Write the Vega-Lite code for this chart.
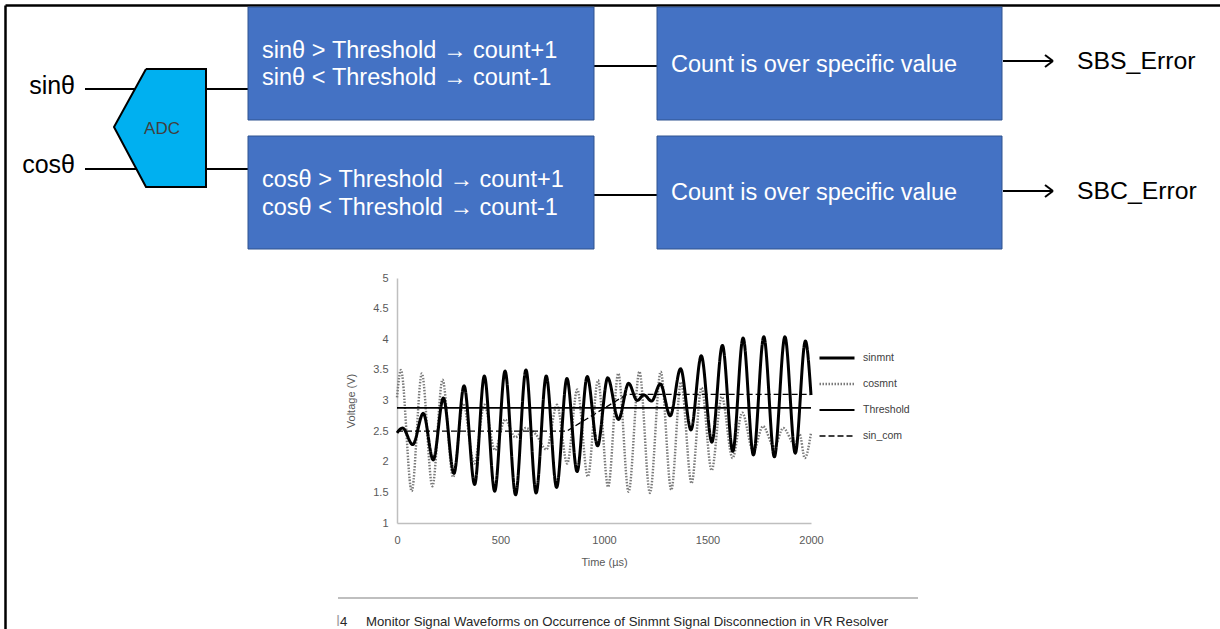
{
  "$schema": "https://vega.github.io/schema/vega-lite/v6.json",
  "width": 1220,
  "height": 629,
  "padding": 0,
  "autosize": {"type": "none"},
  "background": "#ffffff",
  "config": {"view": {"stroke": null}, "font": "Liberation Sans"},
  "datasets": {
    "frame": [
      {"x": 5.5, "y": 5.5, "x2": 1220, "y2": 5.5},
      {"x": 5.5, "y": 5.5, "x2": 5.5, "y2": 629}
    ],
    "wires": [
      {"x": 85, "y": 89, "x2": 248, "y2": 89},
      {"x": 85, "y": 169, "x2": 248, "y2": 169},
      {"x": 594, "y": 66, "x2": 657, "y2": 66},
      {"x": 594, "y": 195, "x2": 657, "y2": 195},
      {"x": 1003, "y": 61, "x2": 1053, "y2": 61},
      {"x": 1003, "y": 191, "x2": 1053, "y2": 191},
      {"x": 1045, "y": 55, "x2": 1053, "y2": 61},
      {"x": 1045, "y": 67, "x2": 1053, "y2": 61},
      {"x": 1045, "y": 185, "x2": 1053, "y2": 191},
      {"x": 1045, "y": 197, "x2": 1053, "y2": 191}
    ],
    "adcFill": [
      {"y": 69, "x": 146, "x2": 206},
      {"y": 127, "x": 114, "x2": 206},
      {"y": 187, "x": 146, "x2": 206}
    ],
    "adcOutline": [
      {"i": 0, "x": 146, "y": 69},
      {"i": 1, "x": 206, "y": 69},
      {"i": 2, "x": 206, "y": 187},
      {"i": 3, "x": 146, "y": 187},
      {"i": 4, "x": 114, "y": 127},
      {"i": 5, "x": 146, "y": 69}
    ],
    "boxes": [
      {"x": 248, "x2": 594, "y": 7, "y2": 120},
      {"x": 248, "x2": 594, "y": 136, "y2": 249},
      {"x": 657, "x2": 1002, "y": 7, "y2": 120},
      {"x": 657, "x2": 1002, "y": 136, "y2": 249}
    ],
    "boxText": [
      {"x": 262, "y": 57.5, "text": "sinθ > Threshold → count+1"},
      {"x": 262, "y": 85, "text": "sinθ < Threshold → count-1"},
      {"x": 262, "y": 187, "text": "cosθ > Threshold → count+1"},
      {"x": 262, "y": 215, "text": "cosθ < Threshold → count-1"},
      {"x": 671, "y": 71.5, "text": "Count is over specific value"},
      {"x": 671, "y": 200, "text": "Count is over specific value"}
    ],
    "inputs": [
      {"x": 75, "y": 94, "text": "sinθ"},
      {"x": 75, "y": 173, "text": "cosθ"}
    ],
    "outputs": [
      {"x": 1077, "y": 68.5, "text": "SBS_Error"},
      {"x": 1077, "y": 199, "text": "SBC_Error"}
    ],
    "adcLabel": [{"x": 162, "y": 134, "text": "ADC"}],
    "captionRule": [{"x": 338, "y": 598, "x2": 918, "y2": 598}],
    "captionText": [
      {"x": 340, "y": 626, "text": "4"},
      {"x": 366, "y": 626, "text": "Monitor Signal Waveforms on Occurrence of Sinmnt Signal Disconnection in VR Resolver"}
    ],
    "captionMark": [{"x": 336.5, "y": 626, "text": "l"}],
    "gridT": [{"t": 500}, {"t": 1000}, {"t": 1500}, {"t": 2000}],
    "gridV": [{"v": 1.5}, {"v": 2}, {"v": 2.5}, {"v": 3}, {"v": 3.5}, {"v": 4}, {"v": 4.5}, {"v": 5}],
    "waves": [
      {"s": "sinmnt", "t": 0, "v": 2.47},
      {"s": "sinmnt", "t": 27, "v": 2.55},
      {"s": "sinmnt", "t": 76, "v": 2.28},
      {"s": "sinmnt", "t": 127, "v": 2.79},
      {"s": "sinmnt", "t": 175, "v": 2.03},
      {"s": "sinmnt", "t": 224, "v": 3.04},
      {"s": "sinmnt", "t": 275, "v": 1.81},
      {"s": "sinmnt", "t": 324, "v": 3.24},
      {"s": "sinmnt", "t": 375, "v": 1.63},
      {"s": "sinmnt", "t": 422, "v": 3.4},
      {"s": "sinmnt", "t": 472, "v": 1.52},
      {"s": "sinmnt", "t": 522, "v": 3.48},
      {"s": "sinmnt", "t": 573, "v": 1.46},
      {"s": "sinmnt", "t": 623, "v": 3.5},
      {"s": "sinmnt", "t": 672, "v": 1.49},
      {"s": "sinmnt", "t": 721, "v": 3.4},
      {"s": "sinmnt", "t": 771, "v": 1.58},
      {"s": "sinmnt", "t": 821, "v": 3.36},
      {"s": "sinmnt", "t": 870, "v": 1.84},
      {"s": "sinmnt", "t": 919, "v": 3.39},
      {"s": "sinmnt", "t": 969, "v": 2.26},
      {"s": "sinmnt", "t": 1018, "v": 3.37},
      {"s": "sinmnt", "t": 1070, "v": 2.69},
      {"s": "sinmnt", "t": 1119, "v": 3.28},
      {"s": "sinmnt", "t": 1160, "v": 3.0},
      {"s": "sinmnt", "t": 1193, "v": 3.09},
      {"s": "sinmnt", "t": 1230, "v": 2.99},
      {"s": "sinmnt", "t": 1272, "v": 3.27},
      {"s": "sinmnt", "t": 1320, "v": 2.75},
      {"s": "sinmnt", "t": 1370, "v": 3.52},
      {"s": "sinmnt", "t": 1420, "v": 2.52},
      {"s": "sinmnt", "t": 1470, "v": 3.73},
      {"s": "sinmnt", "t": 1521, "v": 2.32},
      {"s": "sinmnt", "t": 1572, "v": 3.9},
      {"s": "sinmnt", "t": 1622, "v": 2.17},
      {"s": "sinmnt", "t": 1672, "v": 4.02},
      {"s": "sinmnt", "t": 1722, "v": 2.11},
      {"s": "sinmnt", "t": 1772, "v": 4.04},
      {"s": "sinmnt", "t": 1823, "v": 2.08},
      {"s": "sinmnt", "t": 1874, "v": 4.04},
      {"s": "sinmnt", "t": 1924, "v": 2.14},
      {"s": "sinmnt", "t": 1973, "v": 3.97},
      {"s": "sinmnt", "t": 2000, "v": 3.09},
      {"s": "cosmnt", "t": 0, "v": 3.05},
      {"s": "cosmnt", "t": 19, "v": 3.5},
      {"s": "cosmnt", "t": 71, "v": 1.52},
      {"s": "cosmnt", "t": 120, "v": 3.44},
      {"s": "cosmnt", "t": 171, "v": 1.6},
      {"s": "cosmnt", "t": 220, "v": 3.34},
      {"s": "cosmnt", "t": 271, "v": 1.75},
      {"s": "cosmnt", "t": 320, "v": 2.95},
      {"s": "cosmnt", "t": 373, "v": 1.97},
      {"s": "cosmnt", "t": 422, "v": 2.93},
      {"s": "cosmnt", "t": 473, "v": 2.19},
      {"s": "cosmnt", "t": 522, "v": 2.69},
      {"s": "cosmnt", "t": 571, "v": 2.4},
      {"s": "cosmnt", "t": 620, "v": 2.55},
      {"s": "cosmnt", "t": 670, "v": 2.45},
      {"s": "cosmnt", "t": 722, "v": 2.2},
      {"s": "cosmnt", "t": 773, "v": 2.93},
      {"s": "cosmnt", "t": 822, "v": 1.97},
      {"s": "cosmnt", "t": 871, "v": 3.18},
      {"s": "cosmnt", "t": 922, "v": 1.76},
      {"s": "cosmnt", "t": 971, "v": 3.33},
      {"s": "cosmnt", "t": 1020, "v": 1.59},
      {"s": "cosmnt", "t": 1069, "v": 3.44},
      {"s": "cosmnt", "t": 1119, "v": 1.51},
      {"s": "cosmnt", "t": 1171, "v": 3.47},
      {"s": "cosmnt", "t": 1222, "v": 1.49},
      {"s": "cosmnt", "t": 1274, "v": 3.47},
      {"s": "cosmnt", "t": 1325, "v": 1.54},
      {"s": "cosmnt", "t": 1372, "v": 3.3},
      {"s": "cosmnt", "t": 1423, "v": 1.65},
      {"s": "cosmnt", "t": 1471, "v": 3.21},
      {"s": "cosmnt", "t": 1520, "v": 1.86},
      {"s": "cosmnt", "t": 1569, "v": 3.06},
      {"s": "cosmnt", "t": 1621, "v": 2.06},
      {"s": "cosmnt", "t": 1668, "v": 2.8},
      {"s": "cosmnt", "t": 1721, "v": 2.17},
      {"s": "cosmnt", "t": 1768, "v": 2.58},
      {"s": "cosmnt", "t": 1822, "v": 2.24},
      {"s": "cosmnt", "t": 1866, "v": 2.55},
      {"s": "cosmnt", "t": 1922, "v": 2.28},
      {"s": "cosmnt", "t": 1945, "v": 2.45},
      {"s": "cosmnt", "t": 1970, "v": 2.06},
      {"s": "cosmnt", "t": 2000, "v": 2.47},
      {"s": "Threshold", "t": 0, "v": 2.88},
      {"s": "Threshold", "t": 2000, "v": 2.88},
      {"s": "sin_com", "t": 0, "v": 2.5},
      {"s": "sin_com", "t": 820, "v": 2.5},
      {"s": "sin_com", "t": 1110, "v": 3.1},
      {"s": "sin_com", "t": 2000, "v": 3.1}
    ]
  },
  "layer": [
    {
      "encoding": {
        "x": {"field": "x", "type": "quantitative", "axis": null, "scale": {"domain": [0, 1220], "nice": false, "zero": false}},
        "y": {"field": "y", "type": "quantitative", "axis": null, "scale": {"domain": [0, 629], "nice": false, "zero": false, "reverse": true}}
      },
      "layer": [
        {
          "data": {"name": "frame"},
          "mark": {"type": "rule", "color": "#000000", "strokeWidth": 2.5},
          "encoding": {"x2": {"field": "x2"}, "y2": {"field": "y2"}}
        },
        {
          "data": {"name": "wires"},
          "mark": {"type": "rule", "color": "#000000", "strokeWidth": 2},
          "encoding": {"x2": {"field": "x2"}, "y2": {"field": "y2"}}
        },
        {
          "data": {"name": "adcFill"},
          "mark": {"type": "area", "orient": "horizontal", "color": "#00B0F0", "opacity": 1},
          "encoding": {"x2": {"field": "x2"}}
        },
        {
          "data": {"name": "adcOutline"},
          "mark": {"type": "line", "color": "#000000", "strokeWidth": 2, "strokeJoin": "miter"},
          "encoding": {"order": {"field": "i", "type": "quantitative"}}
        },
        {
          "data": {"name": "boxes"},
          "mark": {"type": "rect", "fill": "#4472C4", "stroke": "#2F528F", "strokeWidth": 1},
          "encoding": {"x2": {"field": "x2"}, "y2": {"field": "y2"}}
        },
        {
          "data": {"name": "boxText"},
          "mark": {"type": "text", "align": "left", "baseline": "alphabetic", "font": "Liberation Sans", "fontSize": 23.5, "color": "#ffffff"},
          "encoding": {"text": {"field": "text"}}
        },
        {
          "data": {"name": "inputs"},
          "mark": {"type": "text", "align": "right", "baseline": "alphabetic", "font": "Liberation Sans", "fontSize": 25, "color": "#000000"},
          "encoding": {"text": {"field": "text"}}
        },
        {
          "data": {"name": "outputs"},
          "mark": {"type": "text", "align": "left", "baseline": "alphabetic", "font": "Liberation Sans", "fontSize": 24.8, "color": "#000000"},
          "encoding": {"text": {"field": "text"}}
        },
        {
          "data": {"name": "adcLabel"},
          "mark": {"type": "text", "align": "center", "baseline": "alphabetic", "font": "Liberation Sans", "fontSize": 17, "color": "#404040"},
          "encoding": {"text": {"field": "text"}}
        },
        {
          "data": {"name": "captionRule"},
          "mark": {"type": "rule", "color": "#bfbfbf", "strokeWidth": 2},
          "encoding": {"x2": {"field": "x2"}, "y2": {"field": "y2"}}
        },
        {
          "data": {"name": "captionMark"},
          "mark": {"type": "text", "align": "left", "baseline": "alphabetic", "font": "Liberation Sans", "fontSize": 14, "color": "#9a9a9a"},
          "encoding": {"text": {"field": "text"}}
        },
        {
          "data": {"name": "captionText"},
          "mark": {"type": "text", "align": "left", "baseline": "alphabetic", "font": "Liberation Sans", "fontSize": 13.2, "color": "#262626"},
          "encoding": {"text": {"field": "text"}}
        }
      ]
    },
    {
      "encoding": {
        "x": {
          "field": "t", "type": "quantitative",
          "scale": {"domain": [0, 2000], "range": [397, 811], "nice": false, "zero": false},
          "axis": {
            "title": "Time (µs)", "orient": "bottom", "offset": -106, "grid": false, "ticks": false,
            "values": [0, 500, 1000, 1500, 2000], "format": "d", "labelFlush": false,
            "domainColor": "#bfbfbf", "domainWidth": 1.5,
            "labelFont": "Liberation Sans", "labelFontSize": 11, "labelColor": "#595959", "labelPadding": 11,
            "titleFont": "Liberation Sans", "titleFontSize": 11, "titleFontWeight": "normal", "titleColor": "#595959", "titlePadding": 11
          }
        },
        "y": {
          "field": "v", "type": "quantitative",
          "scale": {"domain": [1, 5], "range": [523, 278], "nice": false, "zero": false},
          "axis": {
            "title": "Voltage (V)", "orient": "left", "offset": -397, "grid": false, "ticks": false,
            "values": [1, 1.5, 2, 2.5, 3, 3.5, 4, 4.5, 5], "format": "~g",
            "domainColor": "#bfbfbf", "domainWidth": 1.5,
            "labelFont": "Liberation Sans", "labelFontSize": 11, "labelColor": "#595959", "labelPadding": 9,
            "titleFont": "Liberation Sans", "titleFontSize": 11, "titleFontWeight": "normal", "titleColor": "#595959", "titlePadding": 16
          }
        }
      },
      "layer": [
        {
          "data": {"name": "gridT"},
          "mark": {"type": "rule", "color": "#c8c8c8", "strokeWidth": 1.3},
          "encoding": {"y": {"datum": 1}, "y2": {"datum": 5}}
        },
        {
          "data": {"name": "gridV"},
          "mark": {"type": "rule", "color": "#c8c8c8", "strokeWidth": 1.3},
          "encoding": {"x": {"datum": 0}, "x2": {"datum": 2000}}
        },
        {
          "data": {"name": "waves"},
          "transform": [{"filter": "datum.s === 'cosmnt'"}],
          "mark": {"type": "line", "interpolate": "monotone"},
          "encoding": {
            "color": {"field": "s", "type": "nominal", "scale": {"domain": ["sinmnt", "cosmnt", "Threshold", "sin_com"], "range": ["#000000", "#7a7a7a", "#000000", "#000000"]}, "legend": {"title": null, "orient": "none", "legendX": 818, "legendY": 347, "symbolType": "stroke", "symbolSize": 1225, "clipHeight": 22, "rowPadding": 4, "padding": 0, "labelFont": "Liberation Sans", "labelFontSize": 10.5, "labelColor": "#404040", "labelOffset": 7}},
            "strokeDash": {"field": "s", "type": "nominal", "scale": {"domain": ["sinmnt", "cosmnt", "Threshold", "sin_com"], "range": [[1, 0], [1.5, 1.5], [1, 0], [6, 3]]}},
            "strokeWidth": {"field": "s", "type": "nominal", "scale": {"domain": ["sinmnt", "cosmnt", "Threshold", "sin_com"], "range": [3, 1.3, 1.4, 2.5]}}
          }
        },
        {
          "data": {"name": "waves"},
          "transform": [{"filter": "datum.s === 'Threshold'"}],
          "mark": {"type": "line"},
          "encoding": {
            "color": {"field": "s", "type": "nominal"},
            "strokeDash": {"field": "s", "type": "nominal"},
            "strokeWidth": {"field": "s", "type": "nominal"}
          }
        },
        {
          "data": {"name": "waves"},
          "transform": [{"filter": "datum.s === 'sin_com'"}],
          "mark": {"type": "line"},
          "encoding": {
            "color": {"field": "s", "type": "nominal"},
            "strokeDash": {"field": "s", "type": "nominal"},
            "strokeWidth": {"field": "s", "type": "nominal"}
          }
        },
        {
          "data": {"name": "waves"},
          "transform": [{"filter": "datum.s === 'sinmnt'"}],
          "mark": {"type": "line", "interpolate": "monotone"},
          "encoding": {
            "color": {"field": "s", "type": "nominal"},
            "strokeDash": {"field": "s", "type": "nominal"},
            "strokeWidth": {"field": "s", "type": "nominal"}
          }
        }
      ]
    }
  ],
  "resolve": {"scale": {"x": "independent", "y": "independent"}}
}
